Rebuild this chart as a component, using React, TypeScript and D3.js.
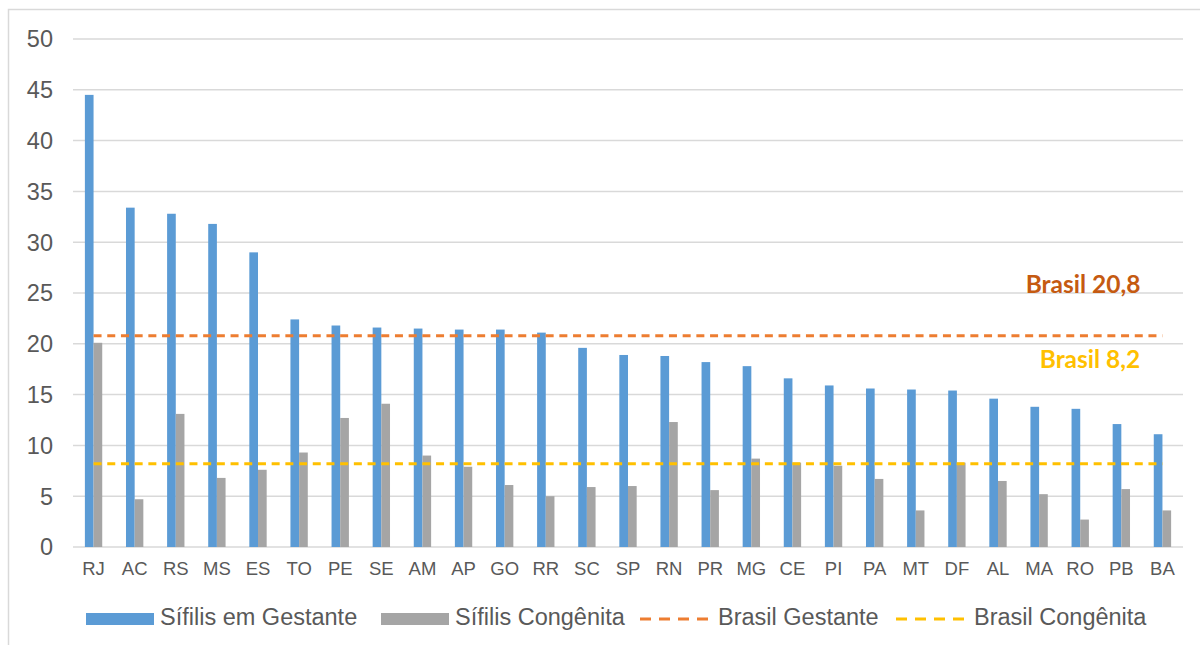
import * as d3 from 'd3'
import * as React from 'react'

// Estados (UF), ordered as in the chart
const ufs: string[] = ['RJ', 'AC', 'RS', 'MS', 'ES', 'TO', 'PE', 'SE', 'AM', 'AP', 'GO', 'RR', 'SC',
  'SP', 'RN', 'PR', 'MG', 'CE', 'PI', 'PA', 'MT', 'DF', 'AL', 'MA', 'RO', 'PB', 'BA']

// Taxa de detecção de sífilis em gestante
const gestante: number[] = [44.5, 33.4, 32.8, 31.8, 29.0, 22.4, 21.8, 21.6, 21.5, 21.4, 21.4, 21.1, 19.6,
  18.9, 18.8, 18.2, 17.8, 16.6, 15.9, 15.6, 15.5, 15.4, 14.6, 13.8, 13.6, 12.1, 11.1]

// Taxa de incidência de sífilis congênita
const congenita: number[] = [20.1, 4.7, 13.1, 6.8, 7.6, 9.3, 12.7, 14.1, 9.0, 7.9, 6.1, 5.0, 5.9,
  6.0, 12.3, 5.6, 8.7, 8.3, 8.0, 6.7, 3.6, 8.3, 6.5, 5.2, 2.7, 5.7, 3.6]

const brasilGestante = 20.8
const brasilCongenita = 8.2

const yTicks: number[] = [0, 5, 10, 15, 20, 25, 30, 35, 40, 45, 50]
const seriesNames: string[] = ['Sífilis em Gestante', 'Sífilis Congênita']
const lineNames: string[] = ['Brasil Gestante', 'Brasil Congênita']

const W = 1200
const H = 645
const margin = { left: 73, right: 17, top: 39, bottom: 98 }

const BLUE = '#5B9BD5'
const GRAY = '#A5A5A5'
const ORANGE = '#ED7D31'
const YELLOW = '#FFC000'
const GRID = '#D9D9D9'
const TXT = '#595959'

const fmt = (v: number) => String(v).replace('.', ',')

export default function App() {
  const x = d3.scaleBand<string>()
    .domain(ufs)
    .range([margin.left, W - margin.right])
    .paddingInner(0.578)
    .paddingOuter(0.289)

  const xs = d3.scaleBand<string>()
    .domain(seriesNames)
    .range([0, x.bandwidth()])

  const y = d3.scaleLinear()
    .domain([0, 50])
    .range([H - margin.bottom, margin.top])

  const x0 = x(ufs[0])! + x.bandwidth() / 2
  const x1 = x(ufs[ufs.length - 1])! + x.bandwidth() / 2

  const font = '"Liberation Sans", Arial, sans-serif'
  const labelFont = 'Lato, "Open Sans", sans-serif'

  // legend items: [kind, color, label, x]
  const legend: [string, string, string, number][] = [
    ['rect', BLUE, seriesNames[0], 86],
    ['rect', GRAY, seriesNames[1], 381],
    ['line', ORANGE, lineNames[0], 640],
    ['line', YELLOW, lineNames[1], 896],
  ]

  return (
    <svg width={W} height={H} style={{ position: 'absolute', left: 0, top: 0, background: '#fff' }}
      fontFamily={font}>
      <rect x={8.5} y={9.5} width={1200} height={700} fill="#fff" stroke={GRID} strokeWidth={1.5} />

      {/* gridlines + y labels */}
      {yTicks.map(t => (
        <g key={t}>
          <line x1={margin.left} x2={W - margin.right} y1={y(t)} y2={y(t)} stroke={GRID} strokeWidth={1.5} />
          <text x={53} y={y(t)} dy="0.36em" textAnchor="end" fontSize={23.5} fill={TXT}>{t}</text>
        </g>
      ))}

      {/* bars */}
      {ufs.map((u, i) => (
        <g key={u} transform={`translate(${x(u)},0)`}>
          <rect x={xs(seriesNames[0])} width={xs.bandwidth()} y={y(gestante[i])}
            height={y(0) - y(gestante[i])} fill={BLUE} />
          <rect x={xs(seriesNames[1])} width={xs.bandwidth()} y={y(congenita[i])}
            height={y(0) - y(congenita[i])} fill={GRAY} />
          <text x={x.bandwidth() / 2} y={575} textAnchor="middle" fontSize={18.5} fill={TXT}>{u}</text>
        </g>
      ))}

      {/* reference lines */}
      <line x1={x0} x2={x1} y1={y(brasilGestante)} y2={y(brasilGestante)}
        stroke={ORANGE} strokeWidth={3} strokeDasharray="8 5.7" />
      <line x1={x0} x2={x1} y1={y(brasilCongenita)} y2={y(brasilCongenita)}
        stroke={YELLOW} strokeWidth={3} strokeDasharray="8 5.7" />

      <text x={1083} y={293} textAnchor="middle" fontFamily={labelFont}
        fontWeight={700} fontSize={24.5} fill="#C55A11">Brasil {fmt(brasilGestante)}</text>
      <text x={1090} y={368} textAnchor="middle" fontFamily={labelFont}
        fontWeight={700} fontSize={24.5} fill={YELLOW}>Brasil {fmt(brasilCongenita)}</text>

      {/* legend */}
      {legend.map(([kind, color, label, lx]) => (
        <g key={label} transform={`translate(${lx},619)`}>
          {kind === 'rect'
            ? <rect x={0} y={-6} width={68} height={12} fill={color} />
            : <line x1={0} x2={68} y1={0} y2={0} stroke={color} strokeWidth={3} strokeDasharray="11 8" />}
          <text x={kind === 'rect' ? 74 : 78} y={6} fontSize={23.5} fill={TXT}>{label}</text>
        </g>
      ))}
    </svg>
  )
}
